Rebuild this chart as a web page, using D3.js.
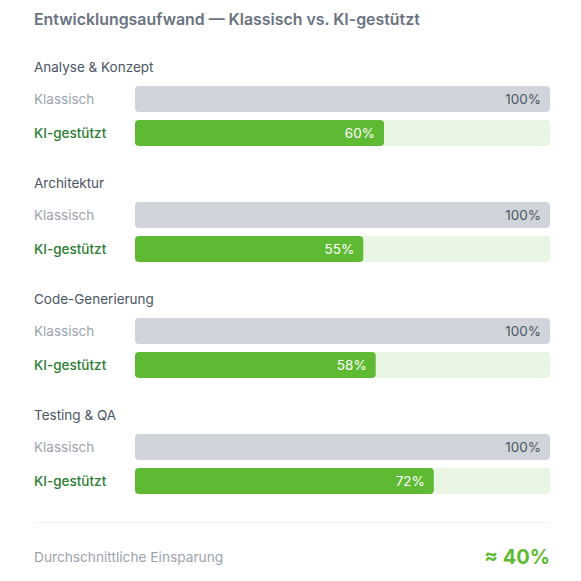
<!DOCTYPE html>
<html>
<head>
<meta charset="utf-8">
<script src="https://cdn.jsdelivr.net/npm/d3@7"></script>
<style>
  body { margin: 0; background: #fff; font-family: Inter, 'Noto Sans', sans-serif; }
</style>
</head>
<body>
<div id="chart"></div>
<script>
// data
let phases = ['Analyse & Konzept', 'Architektur', 'Code-Generierung', 'Testing & QA']
let classic = [100, 100, 100, 100]
let aiAssisted = [60, 55, 58, 72]
let seriesNames = ['Klassisch', 'KI-gestützt']
let title = 'Entwicklungsaufwand — Klassisch vs. KI-gestützt'
let footerLabel = 'Durchschnittliche Einsparung'
let footerValue = '≈ 40%'

let width = 581
let height = 581
let margin = { left: 34, right: 31 }

let svg = d3.select('#chart')
  .append('svg')
  .attr('width', width)
  .attr('height', height)

let xScale = d3.scaleLinear().domain([0, 100]).range([135, width - margin.right])

// group position
let groupY = d3.scaleBand()
  .domain(phases)
  .range([54, 518])
  .paddingInner(0)

let barH = 26

svg.append('text')
  .text(title)
  .attr('x', margin.left)
  .attr('y', 25)
  .attr('font-size', 15.9)
  .attr('font-weight', 600)
  .attr('fill', '#6b7280')

let rows = phases.map((p, i) => ({ phase: p, classic: classic[i], ai: aiAssisted[i] }))

let groups = svg.selectAll('.group')
  .data(rows)
  .enter()
  .append('g')
  .attr('class', 'group')
  .attr('transform', d => `translate(0, ${groupY(d.phase)})`)

groups.append('text')
  .text(d => d.phase)
  .attr('x', margin.left)
  .attr('y', 18)
  .attr('font-size', 13.5)
  .attr('fill', '#4b5563')

groups.each(function(d) {
  let g = d3.select(this)
  let specs = [
    { name: seriesNames[0], value: d.classic, y: 32, track: null, fill: '#d1d5db', label: '#9ca3af', weight: 400, textFill: '#4b5563' },
    { name: seriesNames[1], value: d.ai, y: 66, track: '#e9f6e4', fill: '#5fba33', label: '#2e7d32', weight: 500, textFill: '#ffffff' }
  ]
  specs.forEach(s => {
    g.append('text')
      .text(s.name)
      .attr('x', margin.left)
      .attr('y', s.y + barH / 2)
      .attr('dy', '0.35em')
      .attr('font-size', 13.5)
      .attr('font-weight', s.weight)
      .attr('fill', s.label)

    if (s.track) {
      g.append('rect')
        .attr('x', xScale(0))
        .attr('y', s.y)
        .attr('width', xScale(100) - xScale(0))
        .attr('height', barH)
        .attr('rx', 4)
        .attr('fill', s.track)
    }

    g.append('rect')
      .attr('x', xScale(0))
      .attr('y', s.y)
      .attr('width', xScale(s.value) - xScale(0))
      .attr('height', barH)
      .attr('rx', 4)
      .attr('fill', s.fill)

    g.append('text')
      .text(s.value + '%')
      .attr('x', xScale(s.value) - 9)
      .attr('y', s.y + barH / 2)
      .attr('dy', '0.35em')
      .attr('text-anchor', 'end')
      .attr('font-size', 13.5)
      .attr('fill', s.textFill)
  })
})

svg.append('line')
  .attr('x1', margin.left)
  .attr('x2', width - margin.right)
  .attr('y1', 522.5)
  .attr('y2', 522.5)
  .attr('stroke', '#f0f1f3')

svg.append('text')
  .text(footerLabel)
  .attr('x', margin.left)
  .attr('y', 557)
  .attr('dy', '0.35em')
  .attr('font-size', 13.7)
  .attr('fill', '#9ca3af')

svg.append('text')
  .text(footerValue)
  .attr('x', width - margin.right)
  .attr('y', 557)
  .attr('dy', '0.35em')
  .attr('text-anchor', 'end')
  .attr('font-size', 20)
  .attr('font-weight', 700)
  .attr('fill', '#5fba33')
</script>
</body>
</html>
